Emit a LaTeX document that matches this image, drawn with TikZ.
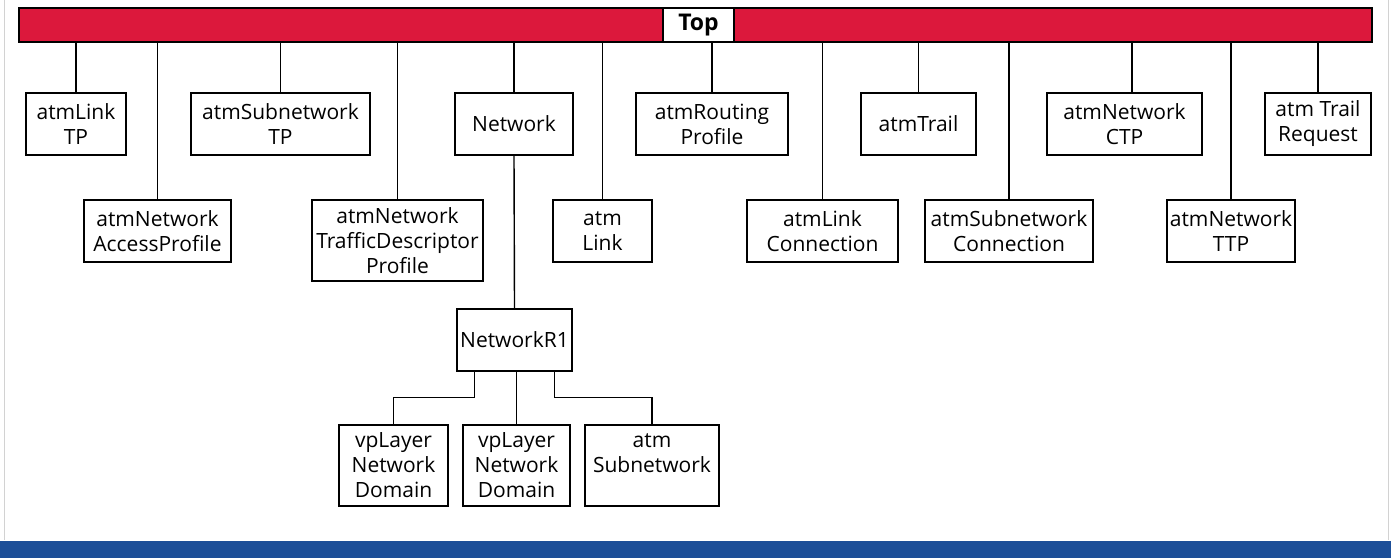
\documentclass[tikz,border=0pt]{standalone}
\usepackage{fontspec}
\setmainfont{Open Sans}
\definecolor{barred}{RGB}{220,24,60}
\definecolor{bandblue}{RGB}{28,78,152}
\tikzset{
  box/.style={draw, line width=1.4pt, inner sep=0pt, align=center,
    minimum height=62pt, font=\fontsize{21}{25}\selectfont},
  tall/.style={box, minimum height=81pt},
  link/.style={line width=1.4pt}
}
\begin{document}
\begin{tikzpicture}[x=1pt, y=-1pt]
\useasboundingbox (0,0) rectangle (1391,558);
\draw[gray!35, line width=0.8pt] (4,0) -- (4,540) (1388,0) -- (1388,540);
\fill[bandblue] (0,541) rectangle (1391,558);
% top bar
\node[draw, line width=1.4pt, fill=barred, inner sep=0pt, minimum width=1353pt, minimum height=34pt] (bar) at (695.5,25) {};
\node[draw, line width=1.4pt, fill=white, inner sep=0pt, minimum width=71pt, minimum height=34pt, font=\fontsize{23}{25}\selectfont\bfseries] (top) at (698.5,25) {Top};
% first row
\node[box, minimum width=100pt] (lnkTP) at (76,124) {atmLink\\TP};
\node[box, minimum width=179pt] (subTP) at (280.5,124) {atmSubnetwork\\TP};
\node[box, minimum width=118pt] (network) at (514,124) {Network};
\node[box, minimum width=152pt] (routing) at (712,124) {atmRouting\\Profile};
\node[box, minimum width=115pt] (trail) at (918.5,124) {atmTrail};
\node[box, minimum width=155pt] (ctp) at (1124.5,124) {atmNetwork\\CTP};
\node[box, minimum width=106pt] (trailReq) at (1318,124) {atm Trail\\Request};
% second row
\node[box, minimum width=147pt] (accProf) at (157.5,231) {atmNetwork\\AccessProfile};
\node[tall, minimum width=171pt] (trafDesc) at (397.5,240.5) {atmNetwork\\TrafficDescriptor\\Profile};
\node[box, minimum width=99pt] (atmLink) at (602.5,231) {atm\\Link};
\node[box, minimum width=151pt] (lnkConn) at (822.5,231) {atmLink\\Connection};
\node[box, minimum width=168pt] (subConn) at (1009,231) {atmSubnetwork\\Connection};
\node[box, minimum width=128pt] (ttp) at (1231,231) {atmNetwork\\TTP};
% below Network
\node[box, minimum width=115pt] (netR1) at (514.5,340) {NetworkR1};
\node[tall, minimum width=109pt] (vp1) at (393.5,465.5) {vpLayer\\Network\\Domain};
\node[tall, minimum width=107pt] (vp2) at (516.5,465.5) {vpLayer\\Network\\Domain};
\node[tall, minimum width=134pt] (atmSub) at (652,465.5) {atm\\Subnetwork\\~};
% connectors to the bar
\foreach \n in {lnkTP,subTP,network,routing,trail,trailReq,accProf,trafDesc,atmLink,lnkConn,subConn,ttp}
  \draw[link] (\n.north) -- (\n.north |- bar.south);
\draw[link] ([xshift=7.5pt]ctp.north) -- ([xshift=7.5pt]ctp.north |- bar.south);
\draw[link] (network.south) -- (netR1.north);
\draw[link] ([xshift=-40pt]netR1.south) |- ++(0,26) -| (vp1.north);
\draw[link] (netR1.south -| vp2.north) -- (vp2.north);
\draw[link] ([xshift=40pt]netR1.south) |- ++(0,26) -| (atmSub.north);
\end{tikzpicture}
\end{document}
